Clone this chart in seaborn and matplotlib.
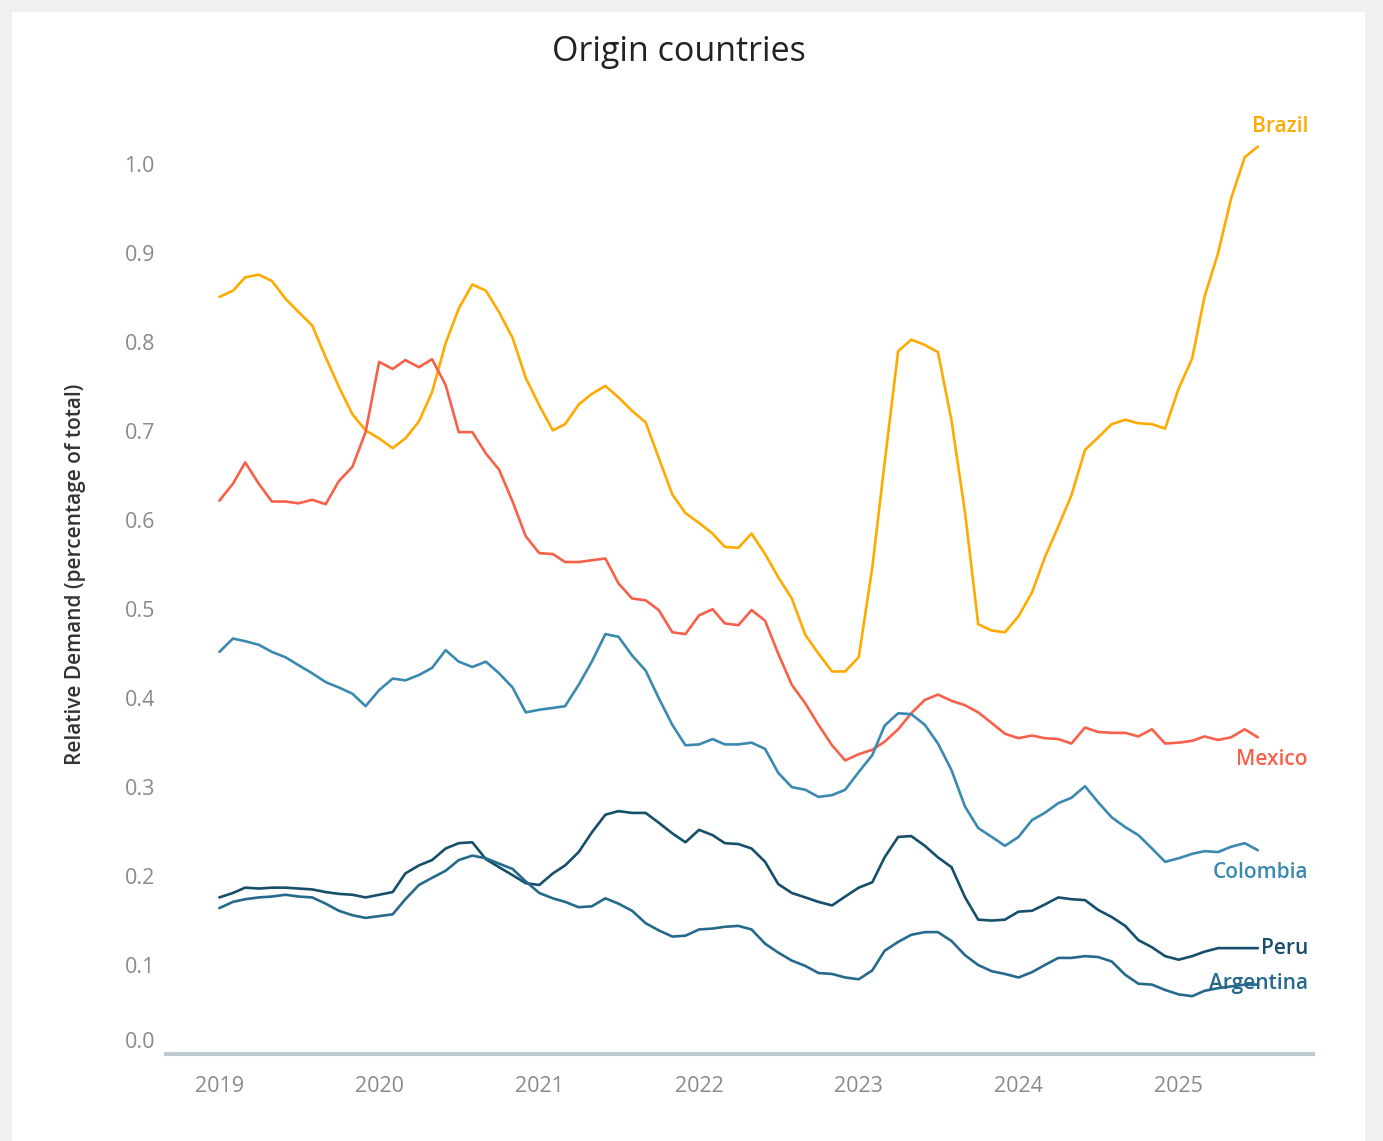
import numpy as np
import pandas as pd
import seaborn as sns
import matplotlib.pyplot as plt
from matplotlib import transforms

# monthly values, Jan 2019 .. Jul 2025
months = pd.date_range('2019-01-01', '2025-07-01', freq='MS')

brazil = [0.851, 0.858, 0.873, 0.876, 0.869, 0.849, 0.834, 0.819, 0.783, 0.750, 0.719, 0.701,
          0.692, 0.681, 0.692, 0.711, 0.744, 0.799, 0.838, 0.865, 0.858, 0.834, 0.805, 0.760,
          0.729, 0.701, 0.708, 0.730, 0.742, 0.751, 0.738, 0.723, 0.710, 0.670, 0.629, 0.608,
          0.597, 0.585, 0.570, 0.569, 0.585, 0.562, 0.536, 0.512, 0.471, 0.450, 0.430, 0.430,
          0.446, 0.547, 0.664, 0.790, 0.803, 0.797, 0.789, 0.712, 0.608, 0.483, 0.476, 0.474,
          0.492, 0.519, 0.558, 0.593, 0.628, 0.679, 0.693, 0.708, 0.713, 0.709, 0.708, 0.703,
          0.748, 0.782, 0.851, 0.900, 0.962, 1.008, 1.020]
mexico = [0.622, 0.641, 0.665, 0.641, 0.621, 0.621, 0.619, 0.623, 0.618, 0.644, 0.660, 0.699,
          0.778, 0.770, 0.780, 0.772, 0.781, 0.752, 0.699, 0.699, 0.675, 0.657, 0.621, 0.582,
          0.563, 0.562, 0.553, 0.553, 0.555, 0.557, 0.529, 0.512, 0.510, 0.499, 0.474, 0.472,
          0.493, 0.500, 0.484, 0.482, 0.499, 0.487, 0.450, 0.415, 0.394, 0.370, 0.347, 0.330,
          0.337, 0.342, 0.351, 0.365, 0.383, 0.398, 0.404, 0.397, 0.392, 0.384, 0.372, 0.360,
          0.355, 0.358, 0.355, 0.354, 0.349, 0.367, 0.362, 0.361, 0.361, 0.357, 0.365, 0.349,
          0.350, 0.352, 0.357, 0.353, 0.356, 0.365, 0.356]
colombia = [0.452, 0.467, 0.464, 0.460, 0.452, 0.446, 0.437, 0.428, 0.418, 0.412, 0.405, 0.391,
            0.409, 0.422, 0.420, 0.426, 0.434, 0.454, 0.441, 0.435, 0.441, 0.428, 0.412, 0.384,
            0.387, 0.389, 0.391, 0.415, 0.441, 0.472, 0.469, 0.448, 0.431, 0.400, 0.370, 0.347,
            0.348, 0.354, 0.348, 0.348, 0.350, 0.343, 0.316, 0.300, 0.297, 0.289, 0.291, 0.297,
            0.317, 0.336, 0.369, 0.383, 0.382, 0.370, 0.349, 0.319, 0.278, 0.254, 0.244, 0.234,
            0.244, 0.263, 0.271, 0.282, 0.288, 0.301, 0.283, 0.266, 0.255, 0.246, 0.231, 0.216,
            0.220, 0.225, 0.228, 0.227, 0.233, 0.237, 0.229]
peru = [0.176, 0.181, 0.187, 0.186, 0.187, 0.187, 0.186, 0.185, 0.182, 0.180, 0.179, 0.176,
        0.179, 0.182, 0.203, 0.212, 0.218, 0.231, 0.237, 0.238, 0.219, 0.210, 0.201, 0.192,
        0.190, 0.203, 0.212, 0.227, 0.249, 0.269, 0.273, 0.271, 0.271, 0.260, 0.248, 0.238,
        0.252, 0.246, 0.237, 0.236, 0.231, 0.216, 0.191, 0.181, 0.176, 0.171, 0.167, 0.177,
        0.187, 0.193, 0.221, 0.244, 0.245, 0.234, 0.221, 0.210, 0.176, 0.151, 0.150, 0.151,
        0.160, 0.161, 0.168, 0.176, 0.174, 0.173, 0.162, 0.154, 0.144, 0.128, 0.120, 0.110,
        0.106, 0.110, 0.115, 0.119, 0.119, 0.119, 0.119]
argentina = [0.164, 0.171, 0.174, 0.176, 0.177, 0.179, 0.177, 0.176, 0.169, 0.161, 0.156, 0.153,
             0.155, 0.157, 0.174, 0.190, 0.198, 0.206, 0.218, 0.223, 0.220, 0.214, 0.208, 0.194,
             0.181, 0.175, 0.171, 0.165, 0.166, 0.175, 0.169, 0.161, 0.147, 0.139, 0.132, 0.133,
             0.140, 0.141, 0.143, 0.144, 0.140, 0.124, 0.114, 0.105, 0.099, 0.091, 0.090, 0.086,
             0.084, 0.094, 0.116, 0.126, 0.134, 0.137, 0.137, 0.127, 0.111, 0.100, 0.093, 0.090,
             0.086, 0.092, 0.100, 0.108, 0.108, 0.110, 0.109, 0.104, 0.089, 0.079, 0.078, 0.072,
             0.067, 0.065, 0.071, 0.074, 0.076, 0.078, 0.078]

countries = ['Brazil', 'Mexico', 'Colombia', 'Peru', 'Argentina']
colors = {'Brazil': '#FFAA00', 'Mexico': '#F7614A', 'Colombia': '#3A89B0',
          'Peru': '#154F6B', 'Argentina': '#256A8C'}
years = [2019, 2020, 2021, 2022, 2023, 2024, 2025]
yticks = [0.0, 0.1, 0.2, 0.3, 0.4, 0.5, 0.6, 0.7, 0.8, 0.9, 1.0]

df = pd.DataFrame({'month': list(months) * 5,
                   'country': np.repeat(countries, len(months)),
                   'value': brazil + mexico + colombia + peru + argentina})

sns.set_style('white')
plt.rcParams['font.family'] = ['Open Sans', 'DejaVu Sans']

fig = plt.figure(figsize=(13.83, 11.41), dpi=100, facecolor='#EEF0F2')
# white card behind everything
fig.patches.append(plt.Rectangle((12 / 1383, 0), (1365 - 12) / 1383, (1141 - 12) / 1141,
                                 transform=fig.transFigure, facecolor='white',
                                 edgecolor='none', zorder=-10))
ax = fig.add_axes([166 / 1383, 87 / 1141, (1313 - 166) / 1383, (1054 - 111) / 1141])
ax.set_facecolor('none')
ax.set_zorder(5)

sns.lineplot(data=df, x='month', y='value', hue='country', palette=colors,
             linewidth=1.9, legend=False, ax=ax)

ax.set_xlim(pd.Timestamp('2018-09-01'), pd.Timestamp('2025-11-04'))
ax.set_ylim(0, 1.06)

ax.set_xticks([pd.Timestamp(f'{y}-01-01') for y in years])
ax.set_xticklabels([str(y) for y in years])
ax.set_yticks(yticks)
ax.set_yticklabels([f'{v:.1f}' for v in yticks])
ax.tick_params(axis='both', length=0, labelsize=15.5, colors='#8A8A8A')
ax.tick_params(axis='x', pad=16)
ax.tick_params(axis='y', pad=8)
# Tableau lifts the zero label off the axis line
lbl0 = ax.get_yticklabels()[0]
lbl0.set_transform(lbl0.get_transform() + transforms.ScaledTranslation(0, 14 / 100, fig.dpi_scale_trans))

for s in ['top', 'right', 'left']:
    ax.spines[s].set_visible(False)
ax.spines['bottom'].set_color('#BCC9D2')
ax.spines['bottom'].set_linewidth(3)

ax.set_xlabel('')
ax.set_ylabel('Relative Demand (percentage of total)', fontsize=15, color='#333333',
              fontweight='semibold')
ax.yaxis.set_label_coords(-0.07, 0.509)

# end labels
series = {'Brazil': brazil, 'Mexico': mexico, 'Colombia': colombia, 'Peru': peru, 'Argentina': argentina}
offsets = {'Brazil': (-6, 20, 'left'), 'Mexico': (50, -22, 'right'), 'Colombia': (50, -22, 'right'),
           'Peru': (50, 0, 'right'), 'Argentina': (50, 1, 'right')}
for c in countries:
    dx, dy, ha = offsets[c]
    ax.annotate(c, xy=(months[-1], series[c][-1]), xytext=(dx, dy), textcoords='offset pixels',
                ha=ha, va='center', fontsize=15, color=colors[c], fontweight='semibold')

fig.text(679 / 1383, 1 - 52 / 1141, 'Origin countries', ha='center', va='center',
         fontsize=24.5, color='#222222')

fig.savefig('out.png', dpi=100, facecolor=fig.get_facecolor())
